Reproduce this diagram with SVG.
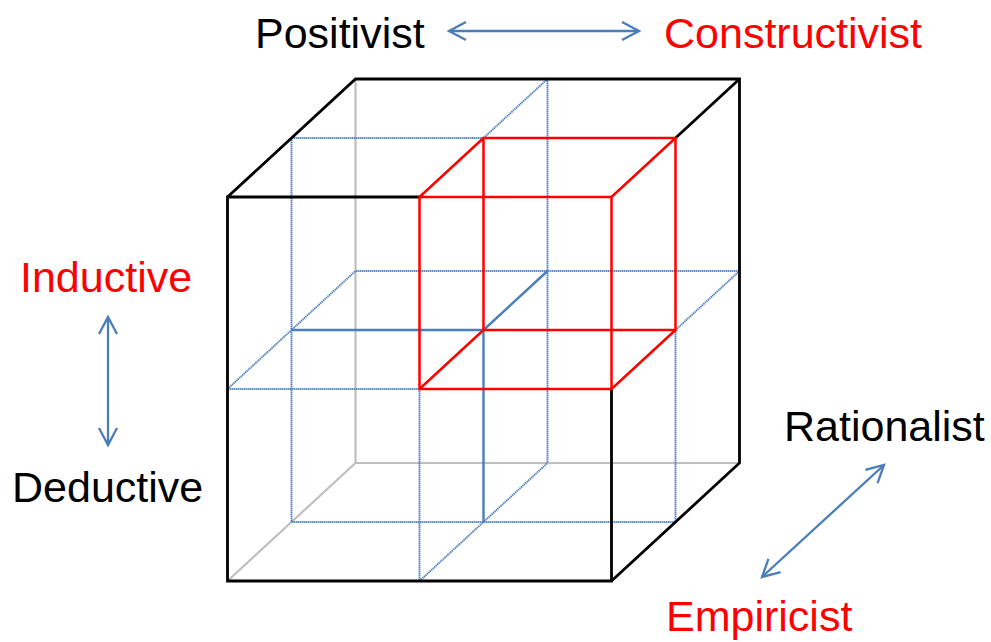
<svg xmlns="http://www.w3.org/2000/svg" width="991" height="642" viewBox="0 0 991 642">
<defs>
<style>
.lbl{font-family:"Liberation Sans",Arial,sans-serif;font-size:43px}
.blk{fill:#000}
.red{fill:#ff0000}
.hid{stroke:#bfbfbf;stroke-width:2.2;fill:none}
.dot{stroke:#4f81bd;stroke-width:1.9;stroke-dasharray:1.4 0.6;fill:none}
.sol{stroke:#4a7ebb;stroke-width:2.4;fill:none}
.rc{stroke:#ff0000;stroke-width:2.5;fill:none;stroke-linejoin:miter}
.edge{stroke:#000;stroke-width:2.8;fill:none;stroke-linejoin:miter}
.arr{stroke:#4a7ebb;stroke-width:2.3;fill:none;marker-start:url(#head);marker-end:url(#head)}
</style>
<marker id="head" markerUnits="userSpaceOnUse" markerWidth="24" markerHeight="24" viewBox="-20 -12 24 24" refX="0" refY="0" orient="auto-start-reverse">
<path d="M-17,-9 L0,0 L-17,9" fill="none" stroke="#4a7ebb" stroke-width="2.3"/>
</marker>
</defs>
<rect width="991" height="642" fill="#fff"/>
<g id="cube">
<path class="hid" d="M355.5,79 V463 H739.5 M227.5,581 L355.5,463"/>
<path class="dot" d="M291.5,138 H483.5 M227.5,389 H419.5 M355.5,271 H739.5 M291.5,522 H675.5 M291.5,138 V522 M419.5,389 V581 M547.5,79 V463 M675.5,330 V522 M227.5,389 L355.5,271 M483.5,138 L547.5,79 M419.5,581 L547.5,463 M675.5,330 L739.5,271"/>
<path class="sol" d="M291.5,330 H483.5 V522 M483.5,330 L547.5,271"/>
<path class="edge" d="M419.5,197 H227.5 V581 H611.5 V389 M227.5,197 L355.5,79 H739.5 V463 L611.5,581 M675.5,138 L739.5,79"/>
</g>
<g id="red-cube">
<path class="rc" d="M419.5,197 H611.5 V389 H419.5 Z M483.5,138 H675.5 V330 H483.5 Z M419.5,197 L483.5,138 M611.5,197 L675.5,138 M419.5,389 L483.5,330 M611.5,389 L675.5,330"/>
</g>
<g id="positivist"><text class="lbl blk" x="255" y="48">Positivist</text></g>
<g id="constructivist"><text class="lbl red" x="664" y="48">Constructivist</text></g>
<g id="inductive"><text class="lbl red" x="20" y="292">Inductive</text></g>
<g id="deductive"><text class="lbl blk" x="12" y="502">Deductive</text></g>
<g id="rationalist"><text class="lbl blk" x="784" y="441">Rationalist</text></g>
<g id="empiricist"><text class="lbl red" x="666" y="631">Empiricist</text></g>
<g id="connectors">
<line class="arr" x1="449" y1="31" x2="639" y2="31"/>
<line class="arr" x1="108" y1="317" x2="108" y2="445"/>
<line class="arr" x1="884" y1="465" x2="762" y2="577"/>
</g>
</svg>
